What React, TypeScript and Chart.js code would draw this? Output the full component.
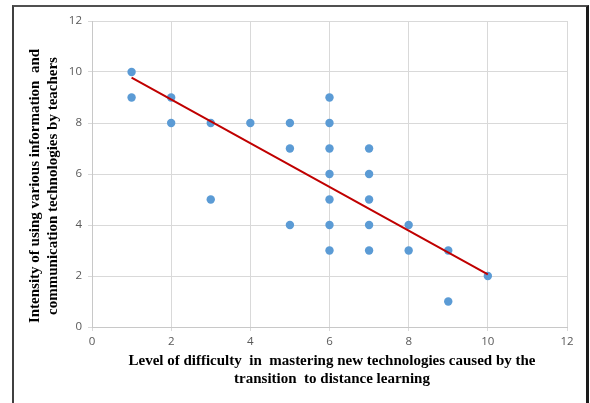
import React, { useEffect, useRef } from "react";
import { Chart, registerables } from "chart.js";

Chart.register(...registerables);

const xValues = [1, 1, 2, 2, 3, 3, 4, 5, 5, 5, 6, 6, 6, 6, 6, 6, 6, 7, 7, 7, 7, 7, 8, 8, 9, 9, 10];
const yValues = [10, 9, 9, 8, 8, 5, 8, 8, 7, 4, 9, 8, 7, 6, 5, 4, 3, 7, 6, 5, 4, 3, 4, 3, 3, 1, 2];
const trendX = [1, 10];
const trendY = [9.78, 2.06];
const xTitleLines = [
  "Level of difficulty  in  mastering new technologies caused by the",
  "transition  to distance learning",
];
const yTitleLines = [
  "Intensity of using various information  and",
  "communication technologies by teachers",
];

const titlePlugin = {
  id: "customTitles",
  afterDraw(chart: any) {
    const { ctx, chartArea } = chart;
    ctx.save();
    ctx.fillStyle = "#000000";
    ctx.font = 'bold 15px "Liberation Serif"';
    ctx.textAlign = "center";
    ctx.textBaseline = "middle";
    const cx = (chartArea.left + chartArea.right) / 2 + 2.5;
    ctx.fillText(xTitleLines[0], cx, chartArea.bottom + 34);
    ctx.fillText(xTitleLines[1], cx, chartArea.bottom + 52);
    ctx.translate(chartArea.left - 57, (chartArea.top + chartArea.bottom) / 2 + 12);
    ctx.rotate(-Math.PI / 2);
    ctx.fillText(yTitleLines[0], 0, 0);
    ctx.fillText(yTitleLines[1], 0, 18);
    ctx.restore();
  },
};

export default function App() {
  const ref = useRef<HTMLCanvasElement>(null);
  useEffect(() => {
    if (!ref.current) return;
    const chart = new Chart(ref.current, {
      type: "scatter",
      data: {
        datasets: [
          {
            type: "line",
            data: trendX.map((x, i) => ({ x, y: trendY[i] })),
            borderColor: "#c00000",
            borderWidth: 2,
            pointRadius: 0,
            fill: false,
            order: 0,
          } as any,
          {
            type: "scatter",
            data: xValues.map((x, i) => ({ x, y: yValues[i] })),
            backgroundColor: "#5b9bd5",
            borderWidth: 0,
            pointRadius: 4.2,
            order: 1,
          },
        ],
      },
      options: {
        responsive: false,
        animation: false,
        layout: { padding: { left: 0, right: 23, top: 21, bottom: 0 } },
        plugins: { legend: { display: false }, tooltip: { enabled: false } },
        scales: {
          x: {
            type: "linear",
            min: 0,
            max: 12,
            afterFit: (s: any) => {
              s.height = 76;
            },
            ticks: {
              stepSize: 2,
              color: "#595959",
              padding: 4,
              font: { family: "Open Sans", size: 11.5 },
            },
            grid: { color: "#d9d9d9", tickLength: 4, lineWidth: 1 },
            border: { color: "#c8c8c8", width: 1 },
          },
          y: {
            type: "linear",
            min: 0,
            max: 12,
            afterFit: (s: any) => {
              s.width = 92;
            },
            ticks: {
              stepSize: 2,
              color: "#595959",
              padding: 6,
              font: { family: "Open Sans", size: 11.5 },
            },
            grid: { color: "#d9d9d9", tickLength: 4, lineWidth: 1 },
            border: { color: "#c8c8c8", width: 1 },
          },
        },
      },
      plugins: [titlePlugin],
    });
    return () => chart.destroy();
  }, []);
  return (
    <>
      <div
        style={{
          position: "absolute",
          left: 12,
          top: 5,
          width: 572,
          height: 396,
          borderLeft: "2px solid #404040",
          borderTop: "2px solid #505050",
          borderRight: "3px solid #1a1a1a",
          boxSizing: "content-box",
        }}
      />
      <canvas
        ref={ref}
        width={590}
        height={403}
        style={{ position: "absolute", left: 0, top: 0, width: 590, height: 403 }}
      />
    </>
  );
}
